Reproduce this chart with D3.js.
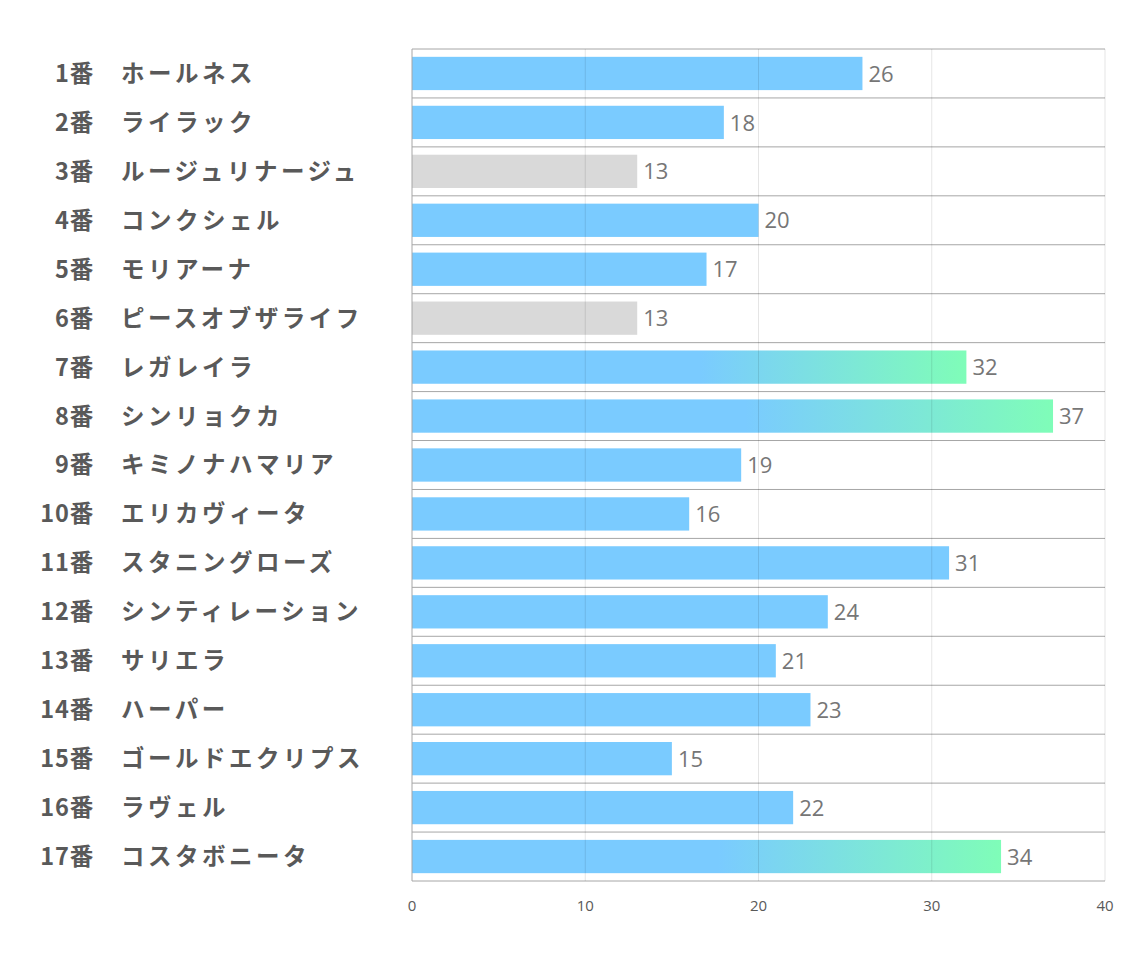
<!DOCTYPE html>
<html><head><meta charset="utf-8">
<script src="https://cdn.jsdelivr.net/npm/d3@7"></script>
<style>body{margin:0;background:#fff}svg{display:block}</style>
</head><body>
<svg id="c" width="1134" height="964"></svg>
<script>
const numbers = ["1番","2番","3番","4番","5番","6番","7番","8番","9番","10番","11番","12番","13番","14番","15番","16番","17番"];
const names = ["ホールネス","ライラック","ルージュリナージュ","コンクシェル","モリアーナ","ピースオブザライフ","レガレイラ","シンリョクカ","キミノナハマリア","エリカヴィータ","スタニングローズ","シンティレーション","サリエラ","ハーパー","ゴールドエクリプス","ラヴェル","コスタボニータ"];
const values = [26,18,13,20,17,13,32,37,19,16,31,24,21,23,15,22,34];
const kinds = ["n","n","g","n","n","g","t","t","n","n","n","n","n","n","n","n","t"]; // n normal, g grey, t top
const ticks = [0,10,20,30,40];

const svg = d3.select("#c");
const x = d3.scaleLinear().domain([0,40]).range([412,1105]);
const y = d3.scaleBand().domain(d3.range(values.length)).range([49,881]).paddingInner(0.32).paddingOuter(0.16);
const step = y.step();

const defs = svg.append("defs");
values.forEach((v,i)=>{
  if(kinds[i]==="t"){
    const g = defs.append("linearGradient").attr("id","grad"+i).attr("x1","0%").attr("x2","100%").attr("y1","0%").attr("y2","0%");
    g.append("stop").attr("offset","52%").attr("stop-color","#7ACBFF");
    g.append("stop").attr("offset","100%").attr("stop-color","#7FFDB8");
  }
});

// horizontal row lines
const rowEdges = d3.range(values.length+1).map(i=>49+i*step);
svg.append("g").selectAll("line").data(rowEdges).join("line")
  .attr("x1",x(0)).attr("x2",x(40)).attr("y1",d=>d).attr("y2",d=>d)
  .attr("stroke","#a6a6a6").attr("stroke-width",1);

// bars
svg.append("g").selectAll("rect").data(values).join("rect")
  .attr("x",x(0)).attr("y",(d,i)=>y(i)).attr("width",d=>x(d)-x(0)).attr("height",y.bandwidth())
  .attr("fill",(d,i)=>kinds[i]==="g"?"#D9D9D9":kinds[i]==="t"?`url(#grad${i})`:"#7ACBFF");

// vertical grid lines (over bars)
svg.append("g").selectAll("line").data(ticks.slice(1)).join("line")
  .attr("x1",d=>x(d)).attr("x2",d=>x(d)).attr("y1",49).attr("y2",881)
  .attr("stroke","#000").attr("stroke-opacity",0.1).attr("stroke-width",1);
svg.append("line").attr("x1",x(0)).attr("x2",x(0)).attr("y1",49).attr("y2",881).attr("stroke","#a6a6a6");

// value labels
svg.append("g").selectAll("text").data(values).join("text")
  .attr("x",d=>x(d)+6).attr("y",(d,i)=>y(i)+y.bandwidth()/2).attr("dy","0.37em")
  .attr("font-family","'Open Sans', 'Noto Sans', sans-serif").attr("font-size",22)
  .attr("fill","#767676").text(d=>d);

// category labels
const lab = svg.append("g").attr("font-family","'Noto Sans CJK JP', sans-serif").attr("font-weight","bold").attr("font-size",23.5).attr("fill","#595959");
lab.selectAll("text.num").data(numbers).join("text").attr("class","num")
  .attr("x",94).attr("y",(d,i)=>y(i)+y.bandwidth()/2).attr("dy","0.36em").attr("text-anchor","end").attr("letter-spacing",0.8).text(d=>d);
lab.selectAll("text.nm").data(names).join("text").attr("class","nm")
  .attr("x",121).attr("y",(d,i)=>y(i)+y.bandwidth()/2).attr("dy","0.36em").attr("letter-spacing",3.5).text(d=>d);

// x axis tick labels
svg.append("g").selectAll("text").data(ticks).join("text")
  .attr("x",d=>x(d)).attr("y",911).attr("text-anchor","middle")
  .attr("font-family","'Open Sans', 'Noto Sans', sans-serif").attr("font-size",15).attr("fill","#595959").text(d=>d);
</script>
</body></html>
